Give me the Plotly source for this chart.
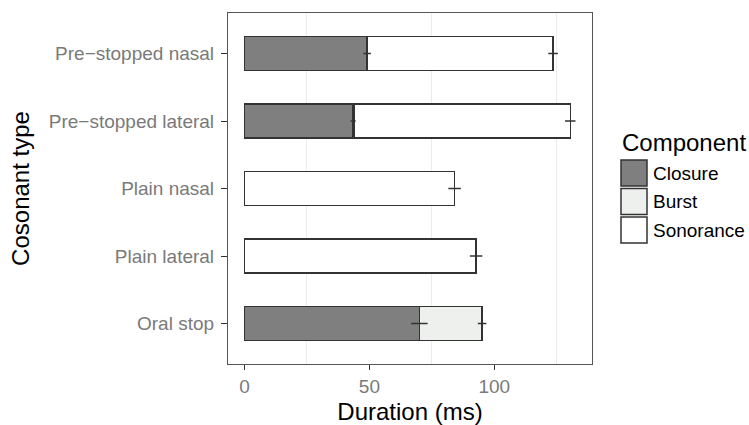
import plotly.graph_objects as go

# ---- data ----
categories = ["Oral stop", "Plain lateral", "Plain nasal",
              "Pre\u2212stopped lateral", "Pre\u2212stopped nasal"]
closure = [70.0, 0.0, 0.0, 43.5, 49.1]
burst = [25.1, 0.0, 0.0, 0.5, 0.0]
sonorance = [0.0, 92.7, 84.1, 86.4, 74.4]
closure_se = [3.3, 0.0, 0.0, 1.0, 1.5]
total_se = [1.7, 2.5, 2.5, 2.1, 1.9]
has_closure_err = [True, False, False, True, True]

components = ["Closure", "Burst", "Sonorance"]
fills = {"Closure": "#7f7f7f", "Burst": "#eef0ee", "Sonorance": "#ffffff"}
x_ticks = [0, 50, 100]
x_minor = [25, 75, 125]

W, H = 749, 425
ML, MR, MT, MB = 228, 157, 13, 61
PW = W - ML - MR
PH = H - MT - MB

def px(x):
    return (x - ML) / PW

def py(y):
    return (H - MB - y) / PH

fig = go.Figure()
edge = "#333333"
for name, vals in zip(components, [closure, burst, sonorance]):
    fig.add_trace(go.Bar(
        y=categories, x=vals, name=name, orientation="h", width=0.5,
        marker=dict(color=fills[name], line=dict(color=edge, width=1.4)),
        showlegend=False, hoverinfo="x+y+name"))

# error bars at closure end and at total end
totals = [c + b + s for c, b, s in zip(closure, burst, sonorance)]
ce_y = [c for c, h in zip(categories, has_closure_err) if h]
ce_x = [v for v, h in zip(closure, has_closure_err) if h]
ce_e = [v for v, h in zip(closure_se, has_closure_err) if h]
fig.add_trace(go.Scatter(
    y=ce_y, x=ce_x, mode="markers", marker=dict(size=1, color="rgba(0,0,0,0)"),
    error_x=dict(type="data", array=ce_e, width=0, color=edge, thickness=1.5),
    showlegend=False, hoverinfo="skip"))
fig.add_trace(go.Scatter(
    y=categories, x=totals, mode="markers", marker=dict(size=1, color="rgba(0,0,0,0)"),
    error_x=dict(type="data", array=total_se, width=0, color=edge, thickness=1.5),
    showlegend=False, hoverinfo="skip"))

font = "Liberation Sans, Arial, Helvetica, sans-serif"

fig.update_layout(
    width=W, height=H, barmode="stack",
    margin=dict(l=ML, r=MR, t=MT, b=MB, autoexpand=False),
    paper_bgcolor="white", plot_bgcolor="white",
    font=dict(family=font, color="black"),
    xaxis=dict(
        range=[-6.6, 139.1], tickvals=x_ticks, ticks="outside", ticklen=5,
        tickcolor=edge, tickwidth=1.1,
        tickfont=dict(size=19, color="#7a7a7a"),
        showgrid=False, zeroline=False,
        minor=dict(tickvals=x_minor, showgrid=True, gridcolor="#ebebeb", gridwidth=1, ticks=""),
        showline=True, mirror=True, linecolor="#555555", linewidth=1.2,
        title=dict(text="Duration (ms)", font=dict(size=24), standoff=8)),
    yaxis=dict(
        type="category", categoryorder="array", categoryarray=categories,
        range=[-0.6, 4.6], ticks="outside", ticklen=6, tickcolor=edge, tickwidth=1.1,
        tickfont=dict(size=19, color="#7a7a7a"), showgrid=False, zeroline=False,
        showline=True, mirror=True, linecolor="#555555", linewidth=1.2,
        ticklabelstandoff=3,
        title=dict(text="Cosonant type", font=dict(size=24), standoff=12)),
)

# legend drawn manually (ggplot style keys)
shapes = []
annots = [dict(x=px(620), y=py(142), xref="paper", yref="paper", text="Component",
               showarrow=False, xanchor="left", yanchor="middle",
               font=dict(size=24, color="black"))]
key_tops = [160, 188.5, 217]
for name, top in zip(components, key_tops):
    shapes.append(dict(type="rect", xref="paper", yref="paper",
                       x0=px(621), x1=px(647), y0=py(top + 26), y1=py(top),
                       fillcolor=fills[name], line=dict(color=edge, width=1.5)))
    annots.append(dict(x=px(651), y=py(top + 13), xref="paper", yref="paper",
                       text=name, showarrow=False, xanchor="left", yanchor="middle",
                       font=dict(size=19, color="black")))
fig.update_layout(shapes=shapes, annotations=annots)

fig.write_html("out.html", config={"displayModeBar": False},
               post_script="document.body.style.margin='0px';")
